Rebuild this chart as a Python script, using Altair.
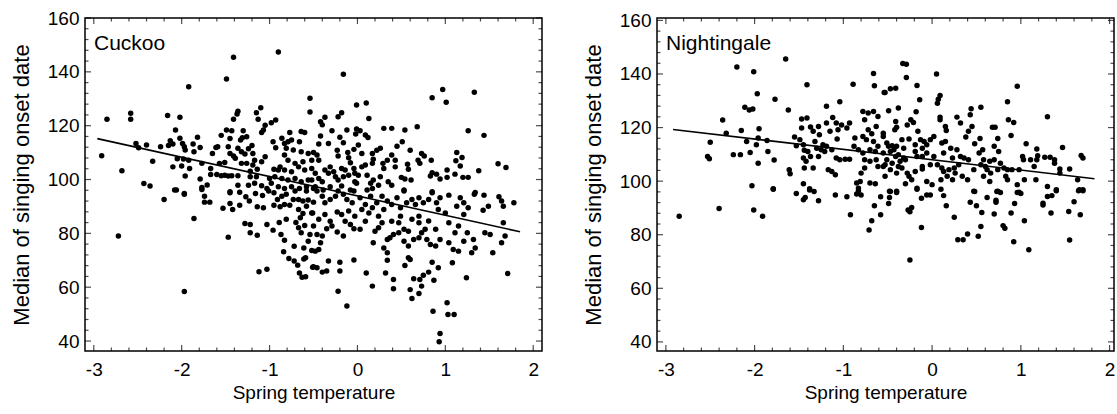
import altair as alt
import pandas as pd

# ---------------- data ----------------
# Cuckoo (left panel), points grouped by region of the plot
cuckoo_upper_left = [(-1.41,145.4),(-0.90,147.4),(-1.49,137.3),(-1.92,134.5),(-0.54,130.2),(-0.54,125.1),(-2.85,122.4),(-2.58,124.6),(-2.58,122.4),(-2.16,123.8),
(-2.02,123.1),(-1.36,125.4),(-1.37,124.3),(-1.41,122.4),(-1.10,126.7),(-1.15,124.8),(-1.13,122.4),(-0.93,122.1),(-0.98,121.1),(-1.05,120.2),
(-1.07,118.4),(-1.09,117.5),(-2.07,118.4),(-1.49,118.4),(-1.43,118.1),(-1.30,118.1),(-0.60,117.5),(-0.77,117.5),(-2.91,108.8),(-2.68,103.3),
(-2.52,113.4),(-2.49,111.8),(-2.40,112.8),(-2.33,106.8),(-2.43,98.5),(-2.36,97.6),(-2.24,112.2),(-2.15,112.6),(-2.13,114.4),(-2.10,113.2),
(-2.02,115.3),(-1.99,113.4),(-1.97,112.2),(-1.96,111.0),(-2.05,107.7),(-2.10,104.7),(-2.00,105.0),(-1.98,107.6),(-1.96,101.3),(-1.91,104.1),
(-1.92,107.2),(-1.87,113.2),(-1.82,115.7),(-1.86,110.3),(-1.79,111.9),(-1.77,106.0),(-1.79,100.2),(-1.77,97.0),(-1.71,98.0),(-1.67,104.1),
(-1.67,101.9),(-1.65,109.7),(-1.61,111.9),(-1.59,112.2),(-1.55,116.4),(-1.60,101.9),(-1.55,101.4),(-1.51,101.6),(-1.47,101.3),(-1.43,101.4),
(-1.36,101.4),(-1.57,106.0),(-1.51,106.3),(-1.47,112.2),(-1.45,115.2),(-1.45,109.7),(-1.41,108.7),(-1.39,107.9),(-1.36,111.6),(-1.33,114.7),
(-1.31,115.5),(-1.26,115.9),(-1.32,110.3),(-1.28,109.5),(-1.24,111.4),(-1.20,112.6),(-1.19,109.7),(-1.17,107.2),(-1.19,105.4),(-1.26,106.0),
(-1.32,106.0),(-1.22,103.1),(-1.22,101.0),(-1.15,101.0),(-1.14,103.8),(-1.05,108.5),(-1.09,106.6),(-1.45,95.5),(-1.36,97.9),(-1.24,97.9),
(-1.17,98.6),(-1.09,97.7),(-1.03,96.7),(-0.96,114.0),(-0.93,111.8),(-0.86,115.3),(-0.83,113.4),(-0.79,114.0),(-0.75,114.7),(-0.66,114.0),
(-0.81,111.6),(-0.73,111.0),(-0.64,110.3),(-0.56,109.7),(-0.83,109.1),(-0.79,107.2),(-0.71,106.0),(-0.62,106.6),(-0.52,107.2),(-0.88,104.7),
(-0.83,103.5),(-0.75,102.9),(-0.67,104.7),(-0.60,103.5),(-0.52,104.1),(-0.90,103.5),(-0.94,101.0),(-0.86,100.4),(-0.79,99.8),(-0.71,100.4),
(-0.64,99.2),(-0.56,99.8),(-0.98,98.6),(-0.90,97.3),(-0.83,96.7),(-0.75,97.3),(-0.66,96.7),(-0.58,97.3),(-0.50,96.7),(-0.95,103.8),
(-1.00,100.4),(-2.06,96.1),(-1.97,94.8),(-0.64,117.8)]

cuckoo_upper_right = [(-0.16,139.1),(0.85,130.4),(0.97,133.4),(1.01,128.7),(1.33,132.4),(-0.01,127.7),(0.10,128.4),(-0.22,123.3),(-0.18,124.8),(-0.37,123.1),
(-0.42,121.5),(-0.40,120.3),(0.13,122.7),(-0.29,118.1),(-0.12,118.4),(-0.01,118.8),(0.03,118.1),(-0.02,116.9),(0.09,116.5),(0.12,115.6),
(0.30,119.0),(0.39,119.0),(0.54,118.4),(0.68,119.6),(1.26,118.1),(1.44,116.4),(-0.42,116.2),(-0.33,113.4),(-0.44,113.2),(-0.20,115.7),
(-0.16,113.7),(-0.50,110.0),(-0.46,109.1),(-0.44,107.2),(-0.23,110.9),(-0.22,108.7),(-0.11,110.0),(-0.10,108.1),(-0.08,106.2),(-0.04,111.2),
(0.01,112.8),(0.05,109.7),(0.17,109.7),(0.18,107.5),(0.22,110.9),(0.26,111.6),(0.17,106.0),(0.29,106.0),(0.34,107.2),(0.39,109.1),
(0.43,107.2),(0.45,112.4),(0.51,114.0),(0.60,110.9),(0.30,104.1),(0.43,104.7),(0.57,105.7),(0.58,103.8),(0.69,107.2),(0.71,106.0),
(0.73,109.7),(0.76,108.7),(0.84,107.2),(1.13,110.0),(1.19,108.2),(1.12,107.0),(1.17,105.0),(1.02,103.5),(1.11,102.0),(1.02,100.8),
(0.83,101.3),(0.85,102.5),(0.90,102.0),(0.94,100.2),(1.20,100.8),(1.26,100.8),(1.38,103.3),(1.60,105.9),(1.69,104.5),(-0.48,102.3),
(-0.44,100.4),(-0.40,99.2),(-0.37,103.5),(-0.33,102.3),(-0.31,104.7),(-0.27,102.9),(-0.25,101.0),(-0.22,99.8),(-0.18,104.1),(-0.14,103.5),
(-0.16,101.0),(-0.10,101.6),(-0.04,104.1),(-0.03,102.3),(0.01,101.6),(0.05,104.7),(0.09,105.4),(0.11,101.6),(0.15,98.6),(0.18,99.8),
(0.26,101.0),(0.24,97.9),(0.17,96.7),(0.35,99.2),(0.39,97.9),(0.50,100.8),(0.54,100.2),(0.61,99.8),(0.53,96.1),(-0.03,99.2),
(-0.01,98.6),(-0.31,97.3),(-0.18,97.6),(-0.08,96.1),(-0.52,99.8),(-0.48,97.3),(-0.39,96.1),(0.11,96.1),(0.85,95.5),(1.34,95.2)]

cuckoo_lower_left = [(-2.72,79.0),(-1.97,58.4),(-2.20,92.6),(-2.08,96.1),(-1.97,94.5),(-1.86,85.5),(-1.74,93.8),(-1.74,91.6),(-1.68,91.6),(-1.77,96.3),
(-1.53,89.3),(-1.45,91.1),(-1.45,95.1),(-1.42,88.9),(-1.34,90.4),(-1.34,95.3),(-1.27,93.6),(-1.23,92.0),(-1.16,94.8),(-1.08,94.1),
(-1.14,89.9),(-1.07,89.5),(-1.01,95.7),(-0.95,95.1),(-0.95,90.4),(-1.28,83.7),(-1.22,83.3),(-1.22,80.2),(-1.14,79.3),(-1.03,83.3),
(-1.47,78.6),(-1.12,65.7),(-1.03,66.7),(-0.96,81.2),(-0.89,84.0),(-0.87,79.6),(-0.83,77.4),(-0.84,73.2),(-0.81,85.2),(-0.78,70.7),
(-0.72,69.7),(-0.68,68.2),(-0.72,75.2),(-0.66,65.3),(-0.63,63.7),(-0.59,63.9),(-0.61,74.6),(-0.61,70.5),(-0.59,70.9),(-0.51,67.4),
(-0.56,77.1),(-0.54,79.6),(-0.52,73.6),(-0.64,80.2),(-0.67,82.1),(-0.60,82.9),(-0.70,84.0),(-0.65,85.8),(-0.62,87.4),(-0.51,87.6),
(-0.58,90.1),(-0.67,88.9),(-0.88,89.9),(-0.83,90.7),(-0.77,90.4),(-0.73,92.6),(-0.67,92.6),(-0.62,92.0),(-0.56,92.4),(-0.50,91.6),
(-0.86,93.8),(-0.81,94.5),(-0.71,95.7),(-0.58,95.7),(-0.91,92.6)]

cuckoo_lower_right = [(-0.52,87.6),(-0.46,95.7),(-0.40,93.8),(-0.37,91.4),(-0.31,92.6),(-0.25,93.8),(-0.22,95.7),(-0.16,94.5),(-0.12,92.6),(-0.06,91.4),
(-0.04,95.7),(0.03,93.2),(0.09,90.7),(0.15,93.8),(0.17,89.5),(0.22,91.4),(0.28,93.8),(0.30,88.9),(0.34,92.0),(0.39,90.7),
(0.45,93.2),(0.49,89.5),(0.53,95.7),(0.56,91.4),(0.62,92.6),(0.66,90.7),(0.70,93.2),(0.75,91.4),(0.81,92.6),(0.85,95.1),
(0.90,91.4),(0.94,93.2),(1.04,94.2),(1.13,90.1),(1.21,87.0),(1.26,89.5),(1.33,94.5),(1.44,94.2),(1.49,90.1),(1.43,88.6),
(1.61,93.6),(1.64,92.0),(1.66,90.1),(1.78,91.4),(1.66,83.9),(1.68,79.0),(1.64,76.5),(1.45,80.2),(1.51,79.6),(1.54,72.8),
(1.71,65.1),(1.24,63.5),(1.30,72.8),(1.34,74.6),(1.32,77.7),(1.25,80.2),(1.21,77.1),(1.15,73.4),(1.09,74.0),(1.04,76.5),
(1.08,69.1),(1.02,54.2),(1.03,49.9),(1.10,49.9),(0.86,51.1),(0.94,42.8),(0.93,39.7),(0.92,67.2),(0.87,62.6),(0.85,69.3),
(0.81,65.6),(0.75,64.4),(0.71,62.9),(0.73,60.4),(0.70,57.7),(0.62,55.8),(0.60,59.1),(0.64,63.1),(0.58,70.9),(0.60,70.3),
(0.54,68.1),(0.58,75.3),(0.64,77.7),(0.70,78.4),(0.73,80.2),(0.77,81.5),(0.79,77.7),(0.83,75.9),(0.89,75.3),(0.94,77.7),
(0.89,81.5),(0.81,84.6),(0.70,83.9),(0.70,86.4),(0.62,85.2),(0.58,80.8),(0.53,77.1),(0.47,80.2),(0.41,79.6),(0.37,78.4),
(0.34,77.7),(0.30,74.6),(0.34,72.8),(0.34,70.0),(0.41,62.9),(0.41,59.4),(0.32,65.3),(0.17,60.4),(0.10,65.3),(0.18,76.5),
(0.20,80.8),(0.24,82.1),(0.28,83.9),(0.39,84.5),(0.47,83.9),(0.53,81.5),(0.49,86.4),(0.09,84.5),(0.03,81.5),(-0.04,70.1),
(-0.20,69.3),(-0.20,66.0),(-0.22,58.5),(-0.12,53.0),(-0.33,69.7),(-0.35,66.0),(-0.40,65.6),(-0.46,67.2),(-0.50,67.6),(-0.16,79.0),
(-0.23,80.5),(-0.29,82.7),(-0.35,81.7),(-0.40,79.0),(-0.44,74.0),(-0.48,73.4),(-0.42,76.5),(-0.46,79.6),(-0.50,82.7),(-0.14,84.5),
(-0.08,83.3),(-0.04,81.7),(-0.03,86.4),(-0.10,88.3),(-0.18,87.0),(-0.23,87.9),(-0.31,84.5),(-0.37,87.0),(-0.44,85.2),(0.05,88.9),
(0.13,87.6),(0.24,86.4),(1.11,80.2),(1.04,83.9),(1.15,82.7),(1.21,91.4),(1.00,87.6),(0.92,88.9),(1.17,93.2)]

# Nightingale (right panel)
night_upper_left = [(-1.65,145.6),(-2.20,142.6),(-2.01,140.8),(-1.97,132.6),(-1.77,130.6),(-2.11,127.6),(-2.06,126.6),(-2.02,126.9),(-1.62,126.6),(-1.41,136.0),
(-1.19,128.0),(-1.04,129.6),(-0.89,136.2),(-0.66,140.2),(-0.65,135.6),(-0.54,133.1),(-2.36,122.8),(-2.32,117.9),(-2.15,118.9),(-1.95,119.6),
(-2.50,114.5),(-2.09,114.8),(-1.98,113.6),(-1.96,116.1),(-1.86,115.2),(-2.53,109.2),(-2.51,108.4),(-2.24,109.9),(-2.16,109.9),(-2.05,110.7),
(-1.85,111.1),(-1.96,106.7),(-1.78,107.9),(-2.03,98.3),(-1.79,97.2),(-1.61,104.3),(-1.60,102.8),(-1.47,123.2),(-1.41,123.6),(-1.47,119.8),
(-1.55,116.5),(-1.53,113.2),(-1.45,113.6),(-1.49,115.5),(-1.37,120.2),(-1.34,118.6),(-1.28,120.4),(-1.27,117.3),(-1.19,121.7),(-1.15,118.6),
(-1.12,123.8),(-1.08,121.7),(-1.06,119.2),(-1.02,121.0),(-0.96,119.8),(-0.93,121.7),(-1.07,115.7),(-1.23,113.6),(-1.19,113.0),(-1.13,111.7),
(-1.21,111.1),(-1.44,111.5),(-1.40,111.1),(-1.37,109.2),(-1.45,108.6),(-1.42,107.4),(-1.32,114.8),(-1.30,112.3),(-1.25,111.7),(-1.34,104.9),
(-1.28,109.2),(-1.44,104.9),(-1.45,99.0),(-1.38,97.2),(-1.17,104.3),(-1.13,103.6),(-1.09,102.4),(-1.08,108.6),(-1.04,108.0),(-0.98,108.2),
(-0.93,108.2),(-0.87,116.1),(-0.88,113.0),(-0.83,111.7),(-0.78,126.0),(-0.72,125.4),(-0.66,126.0),(-0.76,122.9),(-0.72,119.2),(-0.68,117.7),
(-0.78,116.7),(-0.74,115.5),(-0.66,114.8),(-0.63,120.4),(-0.61,124.1),(-0.55,117.9),(-0.78,110.5),(-0.70,111.7),(-0.64,111.1),(-0.61,113.0),
(-0.55,110.5),(-0.76,108.0),(-0.70,107.4),(-0.63,108.0),(-0.76,104.9),(-0.80,103.0),(-0.81,99.9),(-0.85,99.3),(-0.70,99.3),(-0.64,99.0),
(-0.83,97.4),(-0.61,105.5),(-0.53,106.1)]

night_upper_right = [(-0.33,143.9),(-0.29,143.6),(-0.29,138.7),(0.05,140.0),(0.96,135.4),(-0.17,135.7),(-0.14,130.4),(-0.53,133.1),(-0.47,134.5),(-0.41,134.7),
(-0.49,126.3),(-0.38,127.3),(0.06,129.1),(0.09,132.0),(0.07,130.6),(-0.18,125.9),(-0.28,121.0),(-0.24,122.9),(-0.21,121.9),(-0.41,122.3),
(-0.40,120.1),(-0.42,119.2),(-0.16,118.6),(0.09,123.9),(0.09,122.9),(0.15,120.4),(0.16,118.9),(0.28,123.9),(0.32,121.7),(0.43,124.8),
(0.44,127.0),(0.45,120.4),(0.41,118.6),(0.55,127.6),(0.38,116.5),(0.48,114.0),(0.54,115.9),(0.68,120.1),(0.71,120.1),(0.74,115.9),
(0.85,129.6),(0.86,122.9),(0.92,121.9),(0.89,117.0),(1.30,124.0),(1.47,112.6),(1.68,109.6),(1.70,108.6),(-0.55,116.7),(-0.51,114.2),
(-0.49,113.0),(-0.45,113.2),(-0.43,111.7),(-0.40,113.0),(-0.34,115.5),(-0.26,115.7),(-0.32,112.3),(-0.38,109.9),(-0.41,109.2),(-0.47,111.1),
(-0.51,108.0),(-0.45,106.7),(-0.36,107.4),(-0.32,108.6),(-0.30,108.0),(-0.55,105.5),(-0.47,104.3),(-0.38,105.5),(-0.34,104.9),(-0.53,101.8),
(-0.40,103.0),(-0.28,103.0),(-0.26,101.8),(-0.23,100.5),(-0.30,99.0),(-0.17,97.4),(-0.19,113.6),(-0.13,115.5),(-0.09,114.8),(-0.06,113.6),
(-0.02,115.5),(0.02,116.7),(-0.11,112.3),(-0.19,111.1),(-0.17,109.2),(-0.11,109.2),(-0.06,110.5),(0.02,109.2),(0.06,106.1),(-0.02,106.1),
(-0.11,105.5),(-0.11,104.5),(-0.19,103.6),(-0.06,99.9),(0.00,98.7),(0.11,114.2),(0.15,114.8),(0.13,110.5),(0.21,112.3),(0.28,111.7),
(0.23,108.6),(0.32,109.2),(0.36,108.6),(0.41,108.0),(0.11,104.9),(0.13,103.6),(0.19,104.3),(0.25,104.9),(0.30,106.1),(0.26,103.0),
(0.17,101.8),(0.23,100.5),(0.10,100.5),(0.34,101.8),(0.40,100.5),(0.47,104.3),(0.53,110.5),(0.57,111.7),(0.58,108.0),(0.55,106.1),
(0.60,105.5),(0.65,107.4),(0.70,108.0),(0.75,111.1),(0.77,106.7),(0.81,104.9),(0.70,113.0),(0.62,104.3),(0.58,101.8),(0.66,103.0),
(0.65,99.9),(0.74,104.3),(0.85,104.3),(0.90,104.3),(0.98,104.3),(0.83,101.8),(0.85,100.5),(1.02,109.2),(1.03,108.0),(1.06,114.0),
(1.11,108.0),(1.18,112.0),(1.19,109.5),(1.18,108.0),(1.15,105.5),(1.27,108.9),(1.33,108.9),(1.38,108.0),(1.38,106.7),(1.44,104.5),
(1.44,103.0),(1.55,104.5),(1.04,100.5),(1.17,100.5),(0.96,98.7),(1.30,98.0),(1.40,96.8),(1.66,96.8),(1.70,96.8),(1.64,100.5),
(0.74,96.2),(0.47,96.2),(-0.48,96.2),(-0.40,96.2),(0.98,95.9)]

night_lower_left = [(-2.85,86.9),(-2.40,89.8),(-2.01,89.2),(-1.91,86.9),(-1.79,97.0),(-1.53,95.4),(-1.45,93.1),(-1.43,93.9),(-1.38,96.7),(-1.33,96.1),
(-1.28,92.7),(-1.09,94.8),(-0.96,94.2),(-0.92,87.5),(-0.85,95.2),(-0.80,94.8),(-0.83,96.4),(-0.71,81.8),(-0.68,85.2),(-0.65,90.8),
(-0.58,87.5),(-0.58,94.2)]

night_lower_right = [(-0.49,91.7),(-0.48,93.9),(-0.47,96.1),(-0.40,95.8),(-0.27,89.2),(-0.23,90.2),(-0.25,88.6),(-0.25,70.6),(-0.12,93.6),(-0.12,82.7),
(-0.06,94.8),(-0.02,94.8),(-0.17,97.0),(0.10,97.0),(0.13,94.6),(0.16,90.8),(0.25,86.5),(0.29,78.1),(0.35,78.1),(0.40,80.3),
(0.43,92.1),(0.48,96.1),(0.50,90.8),(0.52,79.4),(0.55,83.1),(0.56,88.3),(0.62,93.9),(0.70,87.7),(0.72,92.1),(0.72,92.9),
(0.73,96.1),(0.77,95.8),(0.80,83.4),(0.82,82.4),(0.89,88.1),(0.92,77.4),(0.93,91.7),(0.96,95.8),(1.00,95.4),(1.04,85.2),
(1.09,74.4),(1.25,91.1),(1.25,91.8),(1.30,94.3),(1.35,94.6),(1.34,88.1),(1.40,96.4),(1.54,88.7),(1.55,78.0),(1.60,92.3),
(1.65,96.4),(1.70,96.4),(1.67,87.5)]

# regression lines (end points)
cuckoo_line_x = [-2.96, 1.85]
cuckoo_line_y = [115.2, 80.6]
night_line_x = [-2.92, 1.83]
night_line_y = [119.3, 100.9]

panel_labels = ["Cuckoo", "Nightingale"]
x_title = "Spring temperature"
y_title = "Median of singing onset date"

x_major = [-3, -2, -1, 0, 1, 2]
y_major = [40, 60, 80, 100, 120, 140, 160]
x_minor = [round(-3 + 0.2 * i, 1) for i in range(26) if i % 5 != 0]
y_minor = [40 + 4 * i for i in range(31) if i % 5 != 0]

FONT = "Liberation Sans"
W, H = 457, 333
MAJ, MIN = 6, 3.5


def panel(points, lx, ly, label, xdom, ydom):
    df = pd.DataFrame(points, columns=["x", "y"])
    xs = alt.Scale(domain=xdom, nice=False, zero=False)
    ys = alt.Scale(domain=ydom, nice=False, zero=False)
    xaxis = alt.Axis(values=x_major, title=x_title, ticks=False, tickSize=0, domain=False, grid=False,
                     labelExpr="'' + datum.value", labelPadding=9, titlePadding=4, titleFontSize=19)
    yaxis = alt.Axis(values=y_major, title=y_title, ticks=False, tickSize=0, domain=False, grid=False,
                     labelExpr="'' + datum.value", labelPadding=6, titlePadding=14, titleFontSize=22)

    def X(f):
        return alt.X(f, scale=xs, axis=xaxis, title=x_title)

    def Y(f):
        return alt.Y(f, scale=ys, axis=yaxis, title=y_title)

    pts = alt.Chart(df).mark_circle(size=30, color="black", opacity=1).encode(x=X("x:Q"), y=Y("y:Q"))
    line = alt.Chart(pd.DataFrame({"x": lx, "y": ly})).mark_line(color="black", strokeWidth=1.6).encode(
        x=X("x:Q"), y=Y("y:Q"))
    layers = [pts, line]
    for vals, L in ((x_major, MAJ), (x_minor, MIN)):
        d = pd.DataFrame({"x": vals})
        for yy in (H - L / 2, L / 2):
            layers.append(alt.Chart(d).mark_tick(orient="vertical", size=L, thickness=1.2, color="black").encode(
                x=X("x:Q"), y=alt.value(yy)))
    for vals, L in ((y_major, MAJ), (y_minor, MIN)):
        d = pd.DataFrame({"y": vals})
        for xx in (L / 2, W - L / 2):
            layers.append(alt.Chart(d).mark_tick(orient="horizontal", size=L, thickness=1.2, color="black").encode(
                y=Y("y:Q"), x=alt.value(xx)))
    txt = alt.Chart(pd.DataFrame({"t": [label]})).mark_text(
        align="left", baseline="alphabetic", fontSize=21, font=FONT, color="black").encode(
        x=alt.value(9), y=alt.value(32), text="t:N")
    layers.append(txt)
    return alt.layer(*layers).properties(width=W, height=H)


left = panel(cuckoo_upper_left + cuckoo_upper_right + cuckoo_lower_left + cuckoo_lower_right,
             cuckoo_line_x, cuckoo_line_y, panel_labels[0], [-3.1, 2.1], [36.3, 160])
right = panel(night_upper_left + night_upper_right + night_lower_left + night_lower_right,
              night_line_x, night_line_y, panel_labels[1], [-3.1, 2.05], [36.6, 160.9])

chart = alt.hconcat(left, right, spacing=38).properties(
    padding={"left": 9, "top": 8, "right": 0, "bottom": 0}, background="white"
).configure_view(stroke="black", strokeWidth=1.5).configure_axis(
    labelFont=FONT, titleFont=FONT, labelFontSize=19,
    titleFontWeight="normal", labelColor="black", titleColor="black"
)

chart.save("out.html", embed_options={"renderer": "svg", "actions": False})
